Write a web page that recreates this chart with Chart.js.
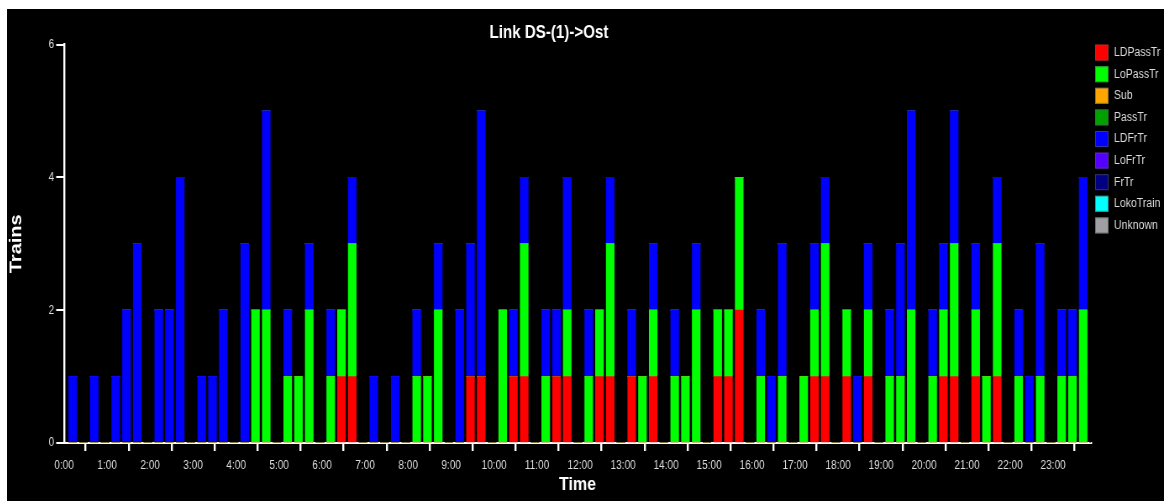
<!DOCTYPE html>
<html lang="en">
<head>
<meta charset="UTF-8" />
<script src="https://cdn.jsdelivr.net/npm/chart.js"></script>
<title>Link DS-(1)->Ost</title>
<style>
  html, body { margin: 0; padding: 0; background: #fff; }
  .frame { position: absolute; left: 7px; top: 9px; width: 1157px; height: 492px; background: #000; overflow: hidden; }
  /* the original picture is squeezed sideways, so draw wide and squeeze */
  #myChart { display: block; transform: scaleX(0.84023); transform-origin: 0 0; }
</style>
</head>
<body>
<div class="frame"><canvas id="myChart" width="1377" height="492"></canvas></div>
<script>
// 15 minute slots, 0:00 .. 23:45
var slots = [];
for (var i = 0; i < 96; i++) {
    slots.push(Math.floor(i / 4) + ":" + String((i % 4) * 15).padStart(2, "0"));
}

var seriesNames = ["LDPassTr", "LoPassTr", "Sub", "PassTr", "LDFrTr", "LoFrTr", "FrTr", "LokoTrain", "Unknown"];
var seriesColors = ["#ff0000", "#00ff00", "#ffa500", "#00a000", "#0000ff", "#5500ff", "#000080", "#00ffff", "#a0a0a4"];

// one row = 3 hours (12 slots)
var ldPassTr = [
    0,0,0,0,0,0,0,0,0,0,0,0,
    0,0,0,0,0,0,0,0,0,0,0,0,
    0,1,1,0,0,0,0,0,0,0,0,0,
    0,1,1,0,0,1,1,0,0,1,1,0,
    0,1,1,0,1,0,1,0,0,0,0,0,
    1,1,2,0,0,0,0,0,0,1,1,0,
    1,0,1,0,0,0,0,0,0,1,1,0,
    1,0,1,0,0,0,0,0,0,0,0,0
];
var loPassTr = [
    0,0,0,0,0,0,0,0,0,0,0,0,
    0,0,0,0,0,2,2,0,1,1,2,0,
    1,1,2,0,0,0,0,0,1,1,2,0,
    0,0,0,0,2,0,2,0,1,0,1,0,
    1,1,2,0,0,1,1,0,1,1,2,0,
    1,1,2,0,1,0,1,0,1,1,2,0,
    1,0,1,0,1,1,2,0,1,1,2,0,
    1,1,2,0,1,0,1,0,1,1,2,0
];
var ldFrTr = [
    1,0,1,0,1,2,3,0,2,2,4,0,
    1,1,2,0,3,0,3,0,1,0,1,0,
    1,0,1,0,1,0,1,0,1,0,1,0,
    2,2,4,0,0,1,1,0,1,1,2,0,
    1,0,1,0,1,0,1,0,1,0,1,0,
    0,0,0,0,1,1,2,0,0,1,1,0,
    0,1,1,0,1,2,3,0,1,1,2,0,
    1,0,1,0,1,1,2,0,1,1,2,0
];
var empty = slots.map(function () { return 0; });
var seriesValues = [ldPassTr, loPassTr, empty, empty, ldFrTr, empty, empty, empty, empty];

var yTicks = [0, 2, 4, 6];
var BAR_SHIFT = 0.2; // bars sit a little right of the slot start, like the original

function toHours(s) {
    var p = s.split(":");
    return Number(p[0]) + Number(p[1]) / 60;
}

Chart.defaults.font.family = "'Liberation Sans', Arial, sans-serif";

var sideLegend = {
    id: "sideLegend",
    afterDraw: function (chart) {
        var ctx = chart.ctx;
        var x = chart.chartArea.right + 5;
        var y = chart.chartArea.top;
        ctx.save();
        ctx.font = "12.5px 'Liberation Sans', Arial, sans-serif";
        ctx.textBaseline = "middle";
        ctx.textAlign = "left";
        chart.data.datasets.forEach(function (ds, k) {
            var top = y + k * 21.6;
            ctx.fillStyle = ds.backgroundColor;
            ctx.fillRect(x, top, 16, 16);
            ctx.strokeStyle = "rgba(90,90,90,0.6)";
            ctx.lineWidth = 1;
            ctx.strokeRect(x + 0.5, top + 0.5, 15, 15);
            ctx.fillStyle = "#dcdcdc";
            ctx.fillText(ds.label, x + 22.5, top + 8);
        });
        ctx.restore();
    }
};

var datasets = seriesNames.map(function (name, k) {
    return {
        label: name,
        backgroundColor: seriesColors[k],
        borderWidth: 0,
        barThickness: 9.5,
        data: seriesValues[k].map(function (v, i) {
            return { x: toHours(slots[i]) + BAR_SHIFT, y: v };
        })
    };
});

var chart = new Chart(document.getElementById("myChart"), {
    type: "bar",
    data: { datasets: datasets },
    plugins: [sideLegend],
    options: {
        responsive: false,
        animation: false,
        devicePixelRatio: 1,
        layout: { padding: { left: 0, right: 87, top: 0, bottom: 0 } },
        plugins: {
            legend: { display: false },
            tooltip: { enabled: false },
            title: {
                display: true,
                text: "Link DS-(1)->Ost",
                color: "#ffffff",
                font: { size: 18, weight: "bold" },
                padding: { top: 13, bottom: 1 }
            }
        },
        scales: {
            x: {
                type: "linear",
                min: 0,
                max: 23.88,
                offset: false,
                stacked: true,
                grid: { drawOnChartArea: false, drawTicks: true, tickLength: 8, color: "#ffffff", lineWidth: 2.4 },
                border: { display: true, color: "#ffffff", width: 2 },
                ticks: {
                    stepSize: 1,
                    includeBounds: false,
                    autoSkip: false,
                    maxRotation: 0,
                    color: "#dcdcdc",
                    font: { size: 12 },
                    padding: 7,
                    callback: function (v) { return Number.isInteger(v) ? v + ":00" : ""; }
                },
                title: {
                    display: true,
                    text: "Time",
                    color: "#ffffff",
                    font: { size: 19, weight: "bold" },
                    padding: { top: 0, bottom: 5 }
                },
                afterFit: function (s) { s.height = 58; }
            },
            y: {
                min: 0,
                max: 6,
                stacked: true,
                grid: { drawOnChartArea: false, drawTicks: true, tickLength: 9.5, color: "#ffffff", lineWidth: 2 },
                border: { display: true, color: "#ffffff", width: 2.4 },
                afterBuildTicks: function (s) { s.ticks = yTicks.map(function (v) { return { value: v }; }); },
                ticks: { color: "#dcdcdc", font: { size: 12 }, padding: 2.4 },
                title: {
                    display: true,
                    text: "Trains",
                    color: "#ffffff",
                    font: { size: 20, weight: "bold", lineHeight: 1 },
                    padding: { top: 1.3, bottom: 0 }
                },
                afterFit: function (s) { s.width = 68; }
            }
        }
    }
});
</script>
</body>
</html>
